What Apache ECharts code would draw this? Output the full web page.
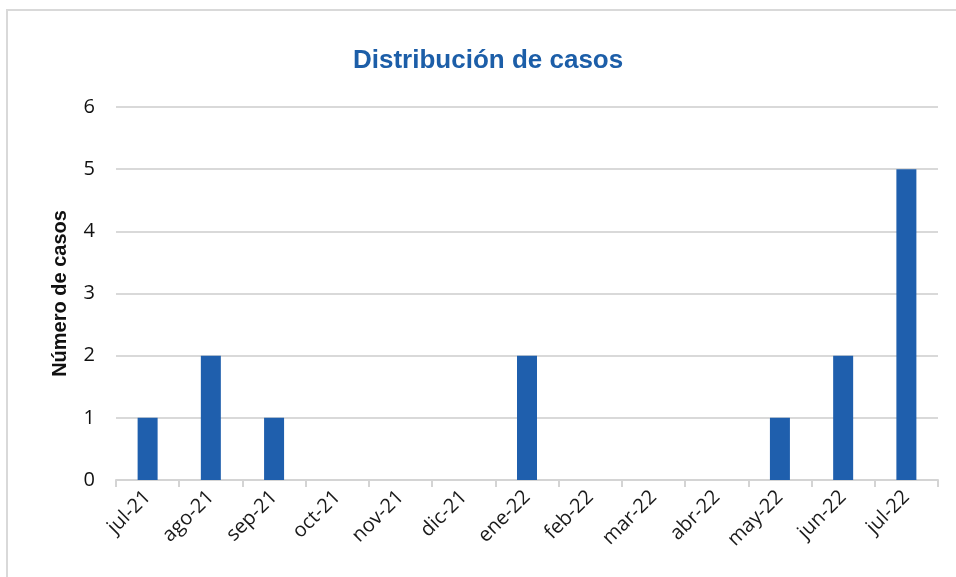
<!DOCTYPE html>
<html>
<head>
<meta charset="utf-8">
<script src="https://cdn.jsdelivr.net/npm/echarts@6/dist/echarts.min.js"></script>
<style>
  html, body { margin: 0; padding: 0; background: #fff; }
  #frame {
    position: absolute; left: 6px; top: 9px; width: 1000px; height: 620px;
    border: 2px solid #d9d9d9; box-sizing: border-box;
  }
  #chart { position: absolute; left: 0; top: 0; width: 956px; height: 577px; }
</style>
</head>
<body>
<div id="frame"></div>
<div id="chart"></div>
<script>
  // 月份
  const months = ['jul-21', 'ago-21', 'sep-21', 'oct-21', 'nov-21', 'dic-21', 'ene-22',
    'feb-22', 'mar-22', 'abr-22', 'may-22', 'jun-22', 'jul-22'];
  // 病例数
  const cases = [1, 2, 1, 0, 0, 0, 2, 0, 0, 0, 1, 2, 5];

  const chart = echarts.init(document.getElementById('chart'));
  chart.setOption({
    animation: false,
    title: {
      text: 'Distribución de casos',
      left: 348,
      top: 43,
      textStyle: {
        color: '#1c5ea8',
        fontSize: 26,
        fontWeight: 'bold',
        fontFamily: 'Liberation Sans'
      }
    },
    grid: { left: 116, right: 18, top: 107, bottom: 97 },
    xAxis: {
      type: 'category',
      data: months,
      axisLine: { lineStyle: { color: '#d4d4d4', width: 2 } },
      axisTick: { show: true, length: 7, lineStyle: { color: '#d4d4d4', width: 2 } },
      axisLabel: {
        rotate: 45,
        color: '#1a1a1a',
        fontSize: 20,
        fontFamily: 'Open Sans',
        margin: 14,
        interval: 0
      }
    },
    yAxis: {
      type: 'value',
      min: 0,
      max: 6,
      interval: 1,
      name: 'Número de casos',
      nameLocation: 'middle',
      nameGap: 46,
      nameTextStyle: {
        color: '#111',
        fontSize: 20,
        fontWeight: 'bold',
        fontFamily: 'Liberation Sans'
      },
      axisLine: { show: false },
      axisTick: { show: false },
      axisLabel: {
        color: '#111',
        fontSize: 20,
        fontFamily: 'Open Sans',
        margin: 21
      },
      splitLine: { lineStyle: { color: '#d9d9d9', width: 2 } }
    },
    series: [{
      type: 'bar',
      data: cases,
      barWidth: 20,
      itemStyle: { color: '#1f5fad' }
    }]
  });
</script>
</body>
</html>
